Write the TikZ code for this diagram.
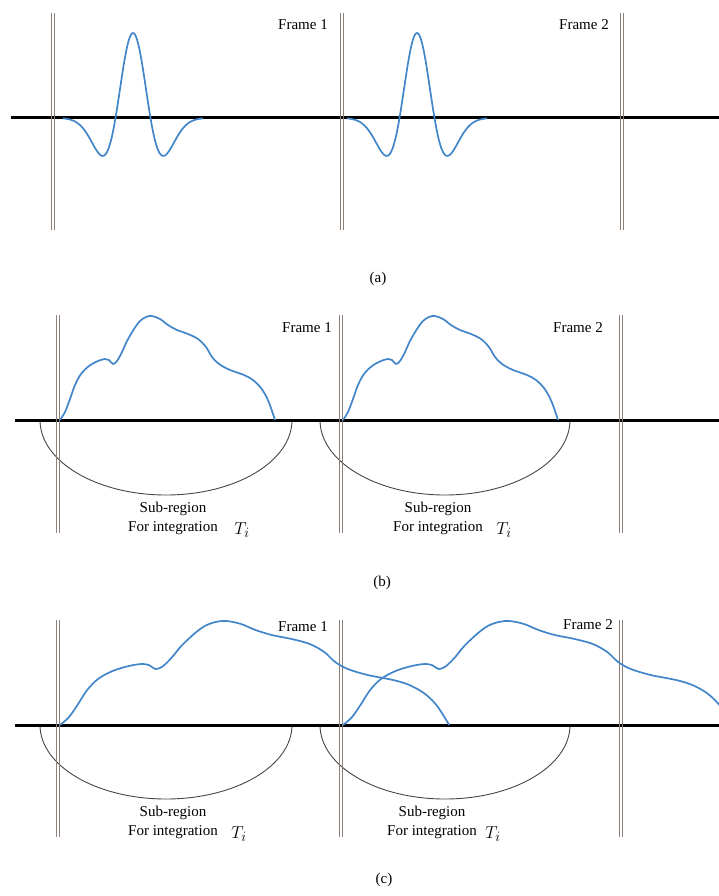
\documentclass[tikz,border=0pt]{standalone}
\usepackage{fontspec}
\setmainfont{Liberation Serif}
\usepackage{tikz}
\usetikzlibrary{positioning}
\definecolor{WaveBlue}{RGB}{66, 133, 201}
\definecolor{BarGray}{RGB}{140, 128, 122}
\definecolor{RegionGray}{RGB}{70, 70, 70}
\newcommand{\hillcurve}[3]{%
  \draw[wave, shift={(#1,#2)}, xscale=#3]
    plot[smooth, tension=0.55] coordinates
    {(0,0) (5,-8) (10,-21) (15,-35) (21,-46) (29,-54) (38,-59) (45,-61) (49,-60) (53,-56) (57,-59)
     (62,-68) (67,-79) (74,-91) (80,-99) (86,-103) (92,-104) (100,-101) (108,-95) (117,-90)
     (128,-86) (138,-81) (146,-73) (152,-63) (159,-56) (170,-50) (184,-45) (193,-40) (201,-32)
     (207,-22) (211,-12) (215,0)};}

\begin{document}
\begin{tikzpicture}[x=1pt, y=-1pt,
    axisline/.style={line width=3pt, black},
    framebar/.style={draw=BarGray, line width=0.9pt},
    wave/.style={WaveBlue, line width=1.7pt},
    region/.style={RegionGray, line width=0.9pt},
    framelabel/.style={font=\fontsize{15}{18}\selectfont, fill=white, inner sep=1pt},
    sublabel/.style={font=\fontsize{15}{19}\selectfont, align=center, inner sep=0pt},
    tlabel/.style={font=\fontsize{19}{22}\selectfont, inner sep=0pt},
    caption/.style={font=\fontsize{15}{18}\selectfont}]
    \useasboundingbox (0,0) rectangle (719,896);
    \clip (0,0) rectangle (719,896);

    % (a)
    \draw[axisline] (11,118) -- (719,118);
    \foreach \bx in {53,342,622} {
        \draw[framebar] (\bx-1.5,13) -- (\bx-1.5,230) (\bx+1.5,13) -- (\bx+1.5,230);
    }
    \foreach \cx in {133,417} {
        \draw[wave] plot[domain=-4:4, samples=121] ({\cx+17.5*\x}, {118-85*(1-\x*\x)*exp(-\x*\x/2)});
    }
    \node[framelabel] (fa1) at (303,25) {Frame 1};
    \node[framelabel] (fa2) at (584,25) {Frame 2};
    \node[caption] (capa) at (378,279) {(a)};

    % (b)
    \draw[region] (40,420) arc[start angle=180, end angle=360, x radius=126pt, y radius=75pt];
    \draw[region] (320,420) arc[start angle=180, end angle=360, x radius=125pt, y radius=75pt];
    \draw[axisline] (15,420) -- (719,420);
    \foreach \bx in {57.5,341,620.5} {
        \draw[framebar] (\bx-1.5,315) -- (\bx-1.5,533) (\bx+1.5,315) -- (\bx+1.5,533);
    }
    \hillcurve{60}{420}{1}
    \hillcurve{343}{420}{1}
    \node[framelabel] (fb1) at (307,328) {Frame 1};
    \node[framelabel] (fb2) at (578,328) {Frame 2};
    \node[sublabel] (sb1) at (173,518) {Sub-region\\For integration};
    \node[tlabel] (tb1) at (242,530) {$T_i$};
    \node[sublabel] (sb2) at (438,518) {Sub-region\\For integration};
    \node[tlabel] (tb2) at (504,530) {$T_i$};
    \node[caption] (capb) at (382,583) {(b)};

    % (c)
    \draw[region] (40,725) arc[start angle=180, end angle=360, x radius=126pt, y radius=74pt];
    \draw[region] (320,725) arc[start angle=180, end angle=360, x radius=125pt, y radius=74pt];
    \draw[axisline] (15,725) -- (719,725);
    \foreach \bx in {57.5,341,620.5} {
        \draw[framebar] (\bx-1.5,620) -- (\bx-1.5,837) (\bx+1.5,620) -- (\bx+1.5,837);
    }
    \hillcurve{60}{725}{1.81}
    \hillcurve{343}{725}{1.81}
    \node[framelabel] (fc1) at (303,627) {Frame 1};
    \node[framelabel] (fc2) at (588,625) {Frame 2};
    \node[sublabel] (sc1) at (173,822) {Sub-region\\For integration};
    \node[tlabel] (tc1) at (239,834) {$T_i$};
    \node[sublabel] (sc2) at (432,822) {Sub-region\\For integration};
    \node[tlabel] (tc2) at (493,834) {$T_i$};
    \node[caption] (capc) at (384,880) {(c)};
\end{tikzpicture}
\end{document}
